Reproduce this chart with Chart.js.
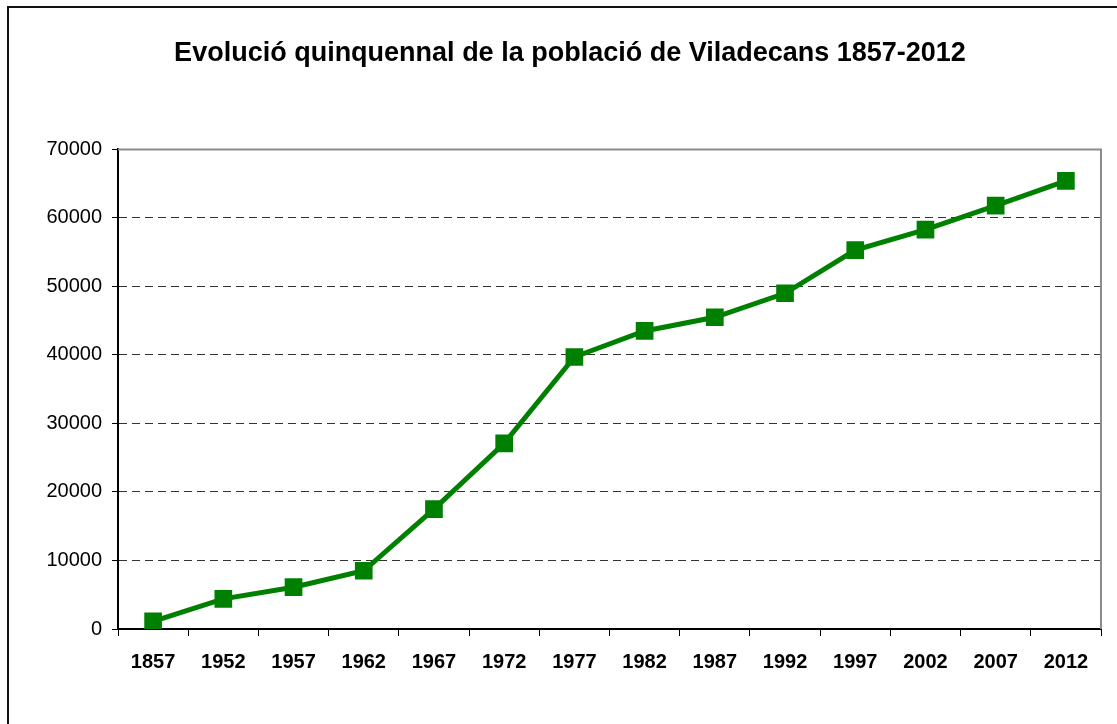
<!DOCTYPE html>
<html>
<head>
<meta charset="utf-8">
<script src="https://cdn.jsdelivr.net/npm/chart.js@4"></script>
<style>
    body { margin: 0; background: #fff; overflow: hidden; }
    #frame { position: absolute; left: 7px; top: 6px; width: 1200px; height: 800px; border: 2px solid #111; }
    #wrap { position: absolute; left: 0; top: 0; width: 1117px; height: 724px; }
</style>
</head>
<body>
<div id="frame"></div>
<div id="wrap"><canvas id="myChart"></canvas></div>
<script>
// Data
const years = ['1857', '1952', '1957', '1962', '1967', '1972', '1977', '1982', '1987', '1992', '1997', '2002', '2007', '2012'];
const population = [1100, 4400, 6100, 8500, 17500, 27100, 39700, 43500, 45500, 49000, 55300, 58300, 61800, 65400];
const yTicks = [0, 10000, 20000, 30000, 40000, 50000, 60000, 70000];
const title = 'Evolució quinquennal de la població de Viladecans 1857-2012';

const ctx = document.getElementById('myChart');

// Gray frame on the top and right of the plot area
const plotFrame = {
    id: 'plotFrame',
    afterDatasetsDraw(chart) {
        const a = chart.chartArea;
        const c = chart.ctx;
        c.save();
        c.strokeStyle = '#8c8c8c';
        c.lineWidth = 2;
        c.beginPath();
        c.moveTo(a.left, a.top);
        c.lineTo(a.right, a.top);
        c.lineTo(a.right, a.bottom);
        c.stroke();
        c.restore();
    }
};

new Chart(ctx, {
    type: 'line',
    data: {
        labels: years,
        datasets: [{
            data: population,
            borderColor: '#008000',
            backgroundColor: '#008000',
            borderWidth: 5,
            pointStyle: 'rect',
            pointRadius: 12.5,
            pointBorderWidth: 0,
            pointBackgroundColor: '#008000',
            tension: 0,
        }]
    },
    plugins: [plotFrame],
    options: {
        responsive: true,
        maintainAspectRatio: false,
        animation: false,
        layout: {
            padding: { left: 39, right: 16, top: 0, bottom: 0 }
        },
        plugins: {
            legend: { display: false },
            tooltip: { enabled: false },
            title: {
                display: true,
                text: title,
                color: '#000',
                font: { family: 'Liberation Sans, Arial, sans-serif', size: 27, weight: 'bold' },
                padding: { top: 37, bottom: 80 }
            }
        },
        scales: {
            x: {
                offset: true,
                grid: {
                    offset: true,
                    drawOnChartArea: false,
                    tickLength: 7,
                    tickColor: '#000',
                    tickWidth: 1,
                },
                border: { color: '#000', width: 2 },
                ticks: {
                    color: '#000',
                    padding: 14,
                    maxRotation: 0,
                    autoSkip: false,
                    font: { family: 'Liberation Sans, Arial, sans-serif', size: 20, weight: 'bold' }
                },
                afterFit(scale) { scale.height = 95; }
            },
            y: {
                min: 0,
                max: 70000,
                afterBuildTicks(scale) { scale.ticks = yTicks.map(v => ({ value: v })); },
                grid: {
                    color: c => (c.tick && (c.tick.value === 0 || c.tick.value === 70000)) ? 'rgba(0,0,0,0)' : '#333',
                    lineWidth: 1,
                    tickLength: 6,
                    tickColor: '#000',
                    tickBorderDash: [],
                },
                border: { color: '#000', width: 2, dash: [8, 5] },
                ticks: {
                    color: '#000',
                    padding: 10,
                    callback: value => String(value),
                    font: { family: 'Liberation Sans, Arial, sans-serif', size: 20 }
                },
                afterFit(scale) { scale.width = 79; }
            }
        }
    }
});
</script>
</body>
</html>
